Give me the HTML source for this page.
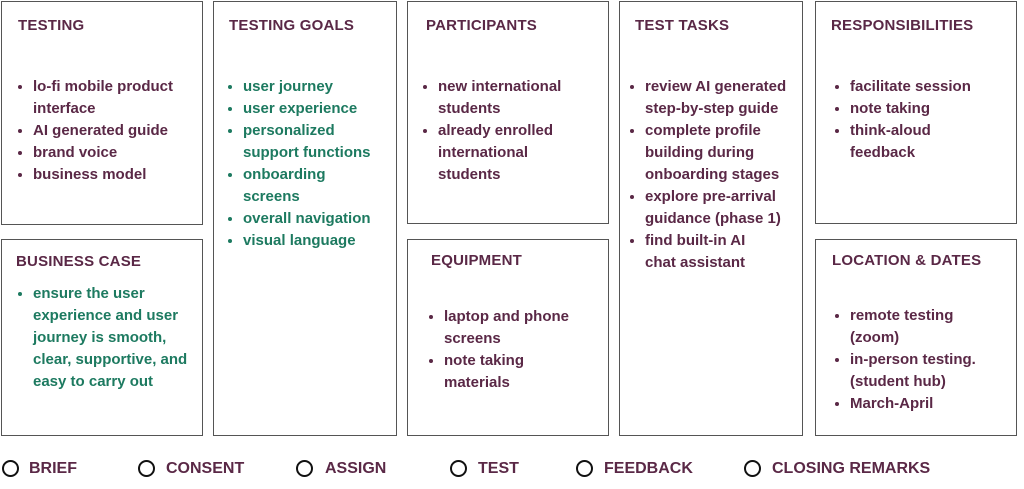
<!DOCTYPE html>
<html><head><meta charset="utf-8"><style>
body{margin:0;width:1024px;height:489px;background:#fff;font-family:"Liberation Sans",sans-serif;position:relative;overflow:hidden}
.b{position:absolute;border:1.5px solid #555;box-sizing:border-box}
.t{position:absolute;font-weight:bold;font-size:15px;color:#5a2846;letter-spacing:0.2px}
ul{position:absolute;margin:0;padding:0 0 0 22px;font-size:15px;font-weight:bold;line-height:22px;color:#5a2846;white-space:nowrap}
ul.g{color:#1d7a60}
.c{position:absolute;top:460px;width:13px;height:13px;border:2.5px solid #111;border-radius:50%}
.l{position:absolute;top:460px;font-weight:bold;font-size:16px;color:#5a2846}
</style></head><body>
<div class="b" style="left:1px;top:1px;width:202px;height:224px"></div>
<div class="b" style="left:1px;top:239px;width:202px;height:197px"></div>
<div class="b" style="left:213px;top:1px;width:184px;height:435px"></div>
<div class="b" style="left:407px;top:1px;width:202px;height:223px"></div>
<div class="b" style="left:407px;top:239px;width:202px;height:197px"></div>
<div class="b" style="left:619px;top:1px;width:184px;height:435px"></div>
<div class="b" style="left:815px;top:1px;width:202px;height:223px"></div>
<div class="b" style="left:815px;top:239px;width:202px;height:197px"></div>

<div class="t" style="left:18px;top:17px">TESTING</div>
<ul style="left:11px;top:76px"><li>lo-fi mobile product<br>interface</li><li>AI generated guide</li><li>brand voice</li><li>business model</li></ul>

<div class="t" style="left:16px;top:253px">BUSINESS CASE</div>
<ul class="g" style="left:11px;top:283px"><li>ensure the user<br>experience and user<br>journey is smooth,<br>clear, supportive, and<br>easy to carry out</li></ul>

<div class="t" style="left:229px;top:17px">TESTING GOALS</div>
<ul class="g" style="left:221px;top:76px"><li>user journey</li><li>user experience</li><li>personalized<br>support functions</li><li>onboarding<br>screens</li><li>overall navigation</li><li>visual language</li></ul>

<div class="t" style="left:426px;top:17px">PARTICIPANTS</div>
<ul style="left:416px;top:76px"><li>new international<br>students</li><li>already enrolled<br>international<br>students</li></ul>

<div class="t" style="left:431px;top:252px">EQUIPMENT</div>
<ul style="left:422px;top:306px"><li>laptop and phone<br>screens</li><li>note taking<br>materials</li></ul>

<div class="t" style="left:635px;top:17px">TEST TASKS</div>
<ul style="left:623px;top:76px"><li>review AI generated<br>step-by-step guide</li><li>complete profile<br>building during<br>onboarding stages</li><li>explore pre-arrival<br>guidance (phase 1)</li><li>find built-in AI<br>chat assistant</li></ul>

<div class="t" style="left:831px;top:17px">RESPONSIBILITIES</div>
<ul style="left:828px;top:76px"><li>facilitate session</li><li>note taking</li><li>think-aloud<br>feedback</li></ul>

<div class="t" style="left:832px;top:252px">LOCATION &amp; DATES</div>
<ul style="left:828px;top:305px"><li>remote testing<br>(zoom)</li><li>in-person testing.<br>(student hub)</li><li>March-April</li></ul>

<div class="c" style="left:2px"></div><div class="l" style="left:29px">BRIEF</div>
<div class="c" style="left:138px"></div><div class="l" style="left:166px">CONSENT</div>
<div class="c" style="left:296px"></div><div class="l" style="left:325px">ASSIGN</div>
<div class="c" style="left:450px"></div><div class="l" style="left:478px">TEST</div>
<div class="c" style="left:576px"></div><div class="l" style="left:604px">FEEDBACK</div>
<div class="c" style="left:744px"></div><div class="l" style="left:772px">CLOSING REMARKS</div>
</body></html>
